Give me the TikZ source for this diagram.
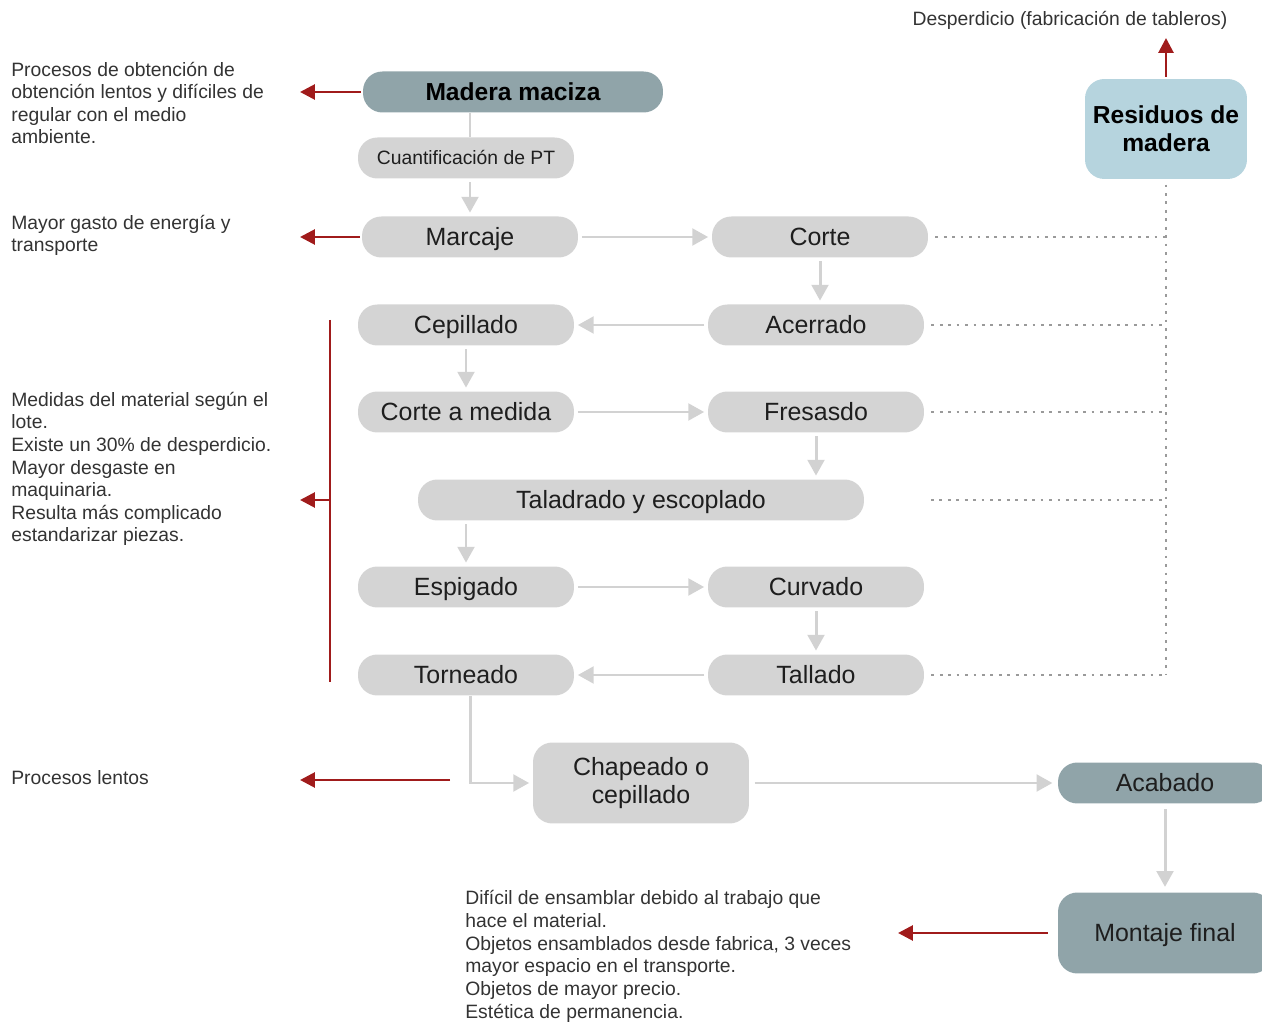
\documentclass[tikz,border=0pt]{standalone}
\usepackage{fontspec}
\setmainfont{Liberation Sans}
\usepackage{xcolor}
\usetikzlibrary{arrows.meta,calc,positioning}
\newcommand{\BoxW}{4.32cm}
\newcommand{\BoxH}{0.82cm}
\newcommand{\XIzq}{466}
\newcommand{\XDer}{816}
\newcommand{\XRes}{1166}
\newcommand{\XNota}{11}
\newcommand{\XPunta}{300}
\definecolor{procFill}{HTML}{D4D4D4}
\definecolor{hitoFill}{HTML}{90A4A9}
\definecolor{residFill}{HTML}{B6D4DE}
\definecolor{flechaGris}{HTML}{D2D2D2}
\definecolor{puntoGris}{HTML}{9A9A9A}
\definecolor{rojoNota}{HTML}{A01B1B}
\definecolor{txtNodo}{HTML}{1E1E1E}
\definecolor{txtNota}{HTML}{333333}

\begin{document}
\begin{tikzpicture}[
  x=0.02cm, y=-0.02cm,
  caja/.style   = {rounded corners=11pt, fill=procFill, minimum width=\BoxW,
                   minimum height=\BoxH, inner sep=0pt, text=txtNodo,
                   font=\fontsize{14.2}{16}\selectfont},
  proc/.style   = {caja, text height=10.2pt, text depth=0pt},
  hito/.style   = {proc, fill=hitoFill},
  resid/.style  = {caja, fill=residFill, minimum width=3.24cm, minimum height=2cm,
                   align=center, text=black, font=\bfseries\fontsize{14}{16}\selectfont},
  nota/.style   = {inner sep=0pt, align=left, text=txtNota,
                   font=\fontsize{11}{12.9}\selectfont},
  flecha/.style = {flechaGris, line width=1.7pt, shorten <=2pt, shorten >=2pt,
                   -{Triangle[length=9pt,width=9.5pt]}},
  linea/.style  = {flechaGris, line width=1.7pt},
  roja/.style   = {rojoNota, line width=1.6pt, -{Triangle[length=8.5pt,width=8.5pt]}},
  punteada/.style = {puntoGris, line width=1.6pt, dash pattern=on 1.6pt off 3.2pt},
]
\useasboundingbox (0,0) rectangle (1262,1023);

% ----------------------------------------------------------------
% Proceso principal
% ----------------------------------------------------------------
\node[hito, minimum width=6cm, text=black, font=\bfseries\fontsize{14}{16}\selectfont]
  (madera) at (513,92) {Madera maciza};
\node[proc, text height=7.9pt, font=\fontsize{11}{13}\selectfont]
  (cuant) at (\XIzq,158) {Cuantificación de PT};
\node[proc] (marcaje)   at (470,237)    {Marcaje};
\node[proc] (corte)     at (820,237)    {Corte};
\node[proc] (acerrado)  at (\XDer,325)  {Acerrado};
\node[proc] (cepillado) at (\XIzq,325)  {Cepillado};
\node[proc] (cmedida)   at (\XIzq,412)  {Corte a medida};
\node[proc] (fresasdo)  at (\XDer,412)  {Fresasdo};
\node[proc, minimum width=8.92cm] (taladrado) at (641,500) {Taladrado y escoplado};
\node[proc] (espigado)  at (\XIzq,587)  {Espigado};
\node[proc] (curvado)   at (\XDer,587)  {Curvado};
\node[proc] (torneado)  at (\XIzq,675)  {Torneado};
\node[proc] (tallado)   at (\XDer,675)  {Tallado};
\node[caja, minimum height=1.62cm, align=center]
  (chapeado) at (641,783) {Chapeado o\\cepillado};
\node[hito, minimum width=4.28cm] (acabado) at (1165,783) {Acabado};
\node[hito, minimum width=4.28cm, minimum height=1.62cm]
  (montaje) at (1165,933) {Montaje final};
\node[resid] (residuos) at (\XRes,129) {Residuos de\\madera};

% ----------------------------------------------------------------
% Conexiones del proceso
% ----------------------------------------------------------------
\draw[linea]  (madera.south -| marcaje) -- (cuant.north -| marcaje);
\draw[flecha] (cuant.south -| marcaje) -- (marcaje.north);
\draw[flecha] (marcaje) -- (corte);
\draw[flecha] (corte.south) -- (corte.south |- acerrado.north);
\draw[flecha] (acerrado) -- (cepillado);
\draw[flecha] (cepillado) -- (cmedida);
\draw[flecha] (cmedida) -- (fresasdo);
\draw[flecha] (fresasdo.south) -- (fresasdo.south |- taladrado.north);
\draw[flecha] (taladrado.south -| espigado) -- (espigado.north);
\draw[flecha] (espigado) -- (curvado);
\draw[flecha] (curvado) -- (tallado);
\draw[flecha] (tallado) -- (torneado);
\draw[flecha, shorten <=0pt] ([xshift=2.3pt]torneado.south) -- ([xshift=2.3pt]torneado.south |- chapeado.west) -- (chapeado.west);
\draw[flecha, shorten <=3pt, shorten >=3pt] (chapeado) -- (acabado);
\draw[flecha, shorten <=3pt, shorten >=3pt] (acabado) -- (montaje);

% ----------------------------------------------------------------
% Residuos (punteado)
% ----------------------------------------------------------------
\coordinate (colRes) at (\XRes,0);
\foreach \n in {corte,acerrado,fresasdo,tallado}{
  \draw[punteada, shorten <=4pt] (\n.east) -- (\n.east -| colRes);
}
\draw[punteada] ([xshift=3.8pt]taladrado.east -| fresasdo.east) -- (taladrado.east -| colRes);
\draw[punteada, shorten <=3pt] (residuos.south) -- (tallado.east -| colRes);

% ----------------------------------------------------------------
% Notas (ancladas en la linea base de la ultima fila)
% ----------------------------------------------------------------
\node[nota, anchor=base] (desp) at (1070,26) {Desperdicio (fabricación de tableros)};
\node[nota, anchor=base west] (nObt) at (\XNota,144)
  {Procesos de obtención de\\obtención lentos y difíciles de\\regular con el medio\\ambiente.};
\node[nota, anchor=base west] (nEner) at (\XNota,252)
  {Mayor gasto de energía y\\transporte};
\node[nota, anchor=base west] (nMed) at (\XNota,542)
  {Medidas del material según el\\lote.\\Existe un 30\% de desperdicio.\\Mayor desgaste en\\maquinaria.\\Resulta más complicado\\estandarizar piezas.};
\node[nota, anchor=base west] (nLent) at (\XNota,785) {Procesos lentos};
\node[nota, anchor=base west] (nEns) at (465,1018)
  {Difícil de ensamblar debido al trabajo que\\hace el material.\\Objetos ensamblados desde fabrica, 3 veces\\mayor espacio en el transporte.\\Objetos de mayor precio.\\Estética de permanencia.};

% ----------------------------------------------------------------
% Flechas rojas
% ----------------------------------------------------------------
\coordinate (punta) at (\XPunta,0);
\coordinate (brTop) at (330,320);
\coordinate (brMid) at (330,500);
\coordinate (brBot) at (330,682);
\coordinate (lentIni) at (450,780);
\coordinate (puntaM) at (898,0);
\coordinate (puntaD) at (\XRes,38);

\draw[roja, shorten <=1pt] (madera.west) -- (madera.west -| punta);
\draw[roja, shorten <=1pt] (marcaje.west) -- (marcaje.west -| punta);
\draw[rojoNota, line width=1.6pt] (brTop) -- (brBot);
\draw[roja] (brMid) -- (brMid -| punta);
\draw[roja] (lentIni) -- (lentIni -| punta);
\draw[roja, shorten <=5.7pt] (montaje.west) -- (montaje.west -| puntaM);
\draw[roja, shorten <=1pt] (residuos.north) -- (puntaD);

\end{tikzpicture}
\end{document}
